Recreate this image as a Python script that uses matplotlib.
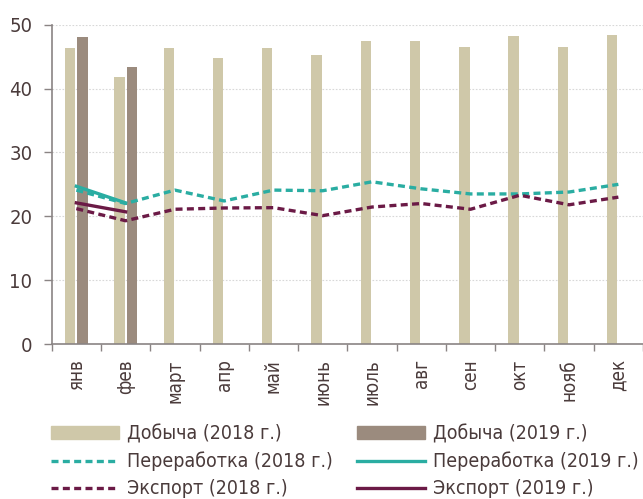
import numpy as np
import matplotlib
matplotlib.use("Agg")
from matplotlib import pyplot as plt
from matplotlib.patches import Patch
from matplotlib.lines import Line2D

months = ["янв", "фев", "март", "апр", "май", "июнь", "июль", "авг", "сен", "окт", "нояб", "дек"]
dobycha_2018 = [46.3, 41.8, 46.35, 44.8, 46.35, 45.25, 47.4, 47.4, 46.5, 48.3, 46.5, 48.4]
dobycha_2019 = [48.1, 43.3]
pererab_2018 = [24.1, 22.0, 24.1, 22.4, 24.1, 24.0, 25.4, 24.3, 23.5, 23.5, 23.8, 25.0]
pererab_2019 = [24.7, 22.1]
export_2018 = [21.2, 19.3, 21.1, 21.3, 21.35, 20.1, 21.45, 22.0, 21.1, 23.3, 21.8, 23.0]
export_2019 = [22.1, 20.7]

c_bar18 = "#cfc8a9"
c_bar19 = "#9b8b7e"
c_teal = "#2aada2"
c_maroon = "#6b1a46"
c_text = "#4a3b3b"
c_axis = "#8a8484"

plt.rcParams['font.family'] = ['DejaVu Sans']
plt.rcParams['font.stretch'] = 'condensed'

fig = plt.figure(figsize=(6.43, 4.99), dpi=100)
ax = fig.add_axes([0.0804, 0.3106, 0.9196, 0.6399])

x = np.arange(len(months))
x19 = np.arange(len(dobycha_2019))
w = 0.21
ax.bar(x - 0.125, dobycha_2018, width=w, color=c_bar18, zorder=2)
ax.bar(x19 + 0.125, dobycha_2019, width=w, color=c_bar19, zorder=2)

dash = (2.1, 1.3)
ax.plot(x, pererab_2018, color=c_teal, lw=2.4, dashes=dash, zorder=3)
ax.plot(x19, pererab_2019, color=c_teal, lw=2.4, zorder=3)
ax.plot(x, export_2018, color=c_maroon, lw=2.4, dashes=dash, zorder=3)
ax.plot(x19, export_2019, color=c_maroon, lw=2.4, zorder=3)

ax.set_xlim(-0.5, len(months) - 0.5)
ax.set_ylim(0, 50)
ax.set_yticks(range(0, 51, 10))
ax.set_xticks(x)
ax.set_xticklabels(months, rotation=90, fontsize=13.5, color=c_text)
ax.set_xticks(np.arange(-0.5, len(months), 1), minor=True)
ax.tick_params(axis="x", which="major", length=0, pad=11)
ax.tick_params(axis="x", which="minor", length=5, color=c_axis, width=1)
ax.tick_params(axis="y", length=6, color=c_axis, width=1, labelsize=14.5, labelcolor=c_text, pad=8)

ax.grid(axis="y", color="#d8d8d8", linestyle=(0, (1.5, 1.5)), lw=0.8, zorder=0)
for s in ["top", "right"]:
    ax.spines[s].set_visible(False)
for s in ["left", "bottom"]:
    ax.spines[s].set_color(c_axis)
    ax.spines[s].set_linewidth(1.2)

handles = [
    Patch(color=c_bar18),
    Line2D([], [], color=c_teal, lw=2.4, dashes=dash),
    Line2D([], [], color=c_maroon, lw=2.4, dashes=dash),
    Patch(color=c_bar19),
    Line2D([], [], color=c_teal, lw=2.4),
    Line2D([], [], color=c_maroon, lw=2.4),
]
labels = ["Добыча (2018 г.)", "Переработка (2018 г.)", "Экспорт (2018 г.)",
          "Добыча (2019 г.)", "Переработка (2019 г.)", "Экспорт (2019 г.)"]
leg = fig.legend(handles, labels, ncol=2, loc="upper left", bbox_to_anchor=(0.079, 0.15),
                 frameon=False, fontsize=14, handlelength=3.5, handleheight=0.6,
                 handletextpad=0.4, columnspacing=1.25, labelspacing=0.42,
                 borderaxespad=0, borderpad=0)
for t in leg.get_texts():
    t.set_color(c_text)

fig.savefig("out.png", dpi=100)
